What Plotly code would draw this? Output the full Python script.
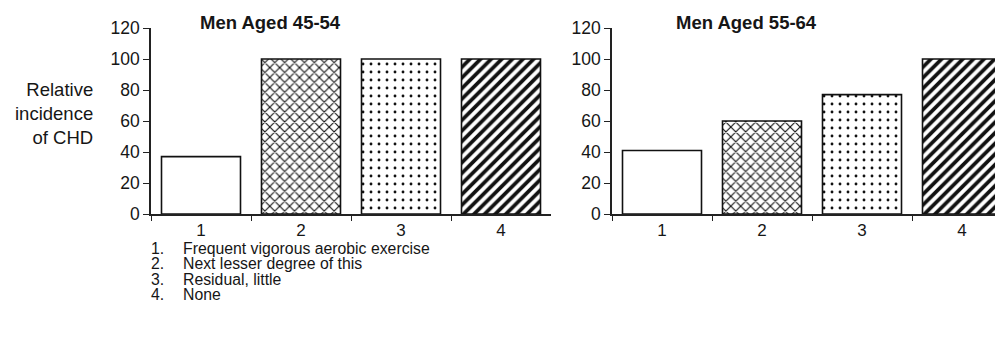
import plotly.graph_objects as go

categories = ["1", "2", "3", "4"]
men_45_54 = [37, 100, 100, 100]
men_55_64 = [41, 60, 77, 100]
panel_titles = ["Men Aged 45-54", "Men Aged 55-64"]
y_tick_vals = [0, 20, 40, 60, 80, 100, 120]
legend_numbers = ["1.", "2.", "3.", "4."]
legend_items = ["Frequent vigorous aerobic exercise", "Next lesser degree of this",
                "Residual, little", "None"]
y_label = "Relative<br>incidence<br>of CHD"

# page has an 8px body margin: lay out in page pixels and convert
OFF = 8
W, H = 1003 - OFF, 339 - 2 * OFF
FONT = "Liberation Sans, Arial, sans-serif"
AX = "#222222"
TXT = "#161616"


def px(x):
    return (x - OFF) / W


def py(y):
    return 1 - (y - OFF) / H


pattern = dict(
    shape=["", "x", ".", "/"],
    size=[8, 7, 8, 7.5],
    solidity=[0.2, 0.3, 0.1, 0.5],
    fgcolor="#111111",
    fgopacity=1,
    bgcolor="white",
    fillmode="replace",
)

fig = go.Figure()
for i, vals in enumerate([men_45_54, men_55_64]):
    fig.add_trace(go.Bar(
        x=categories, y=vals,
        xaxis="x" if i == 0 else "x2",
        yaxis="y" if i == 0 else "y2",
        marker=dict(color="white", line=dict(color="#111", width=1.6), pattern=pattern),
        showlegend=False,
    ))

ydom = [py(214), py(28)]
common_x = dict(type="category", tickson="boundaries", ticks="outside", ticklen=5,
                tickwidth=1.4, tickcolor=AX, showline=True, linecolor=AX, linewidth=1.5,
                showgrid=False, zeroline=False,
                tickfont=dict(family=FONT, size=17, color=TXT))
common_y = dict(range=[0, 120], tickvals=y_tick_vals, ticks="outside", ticklen=6,
                tickwidth=1.4, tickcolor=AX, showline=True, linecolor=AX, linewidth=1.5,
                showgrid=False, zeroline=False, domain=ydom,
                tickfont=dict(family=FONT, size=17.5, color=TXT))

fig.update_layout(
    width=W, height=H,
    margin=dict(l=0, r=0, t=0, b=0, autoexpand=False),
    paper_bgcolor="white", plot_bgcolor="white",
    bargap=0.21,
    xaxis=dict(domain=[px(151), px(551)], range=[-0.5, 3.5], anchor="y", **common_x),
    xaxis2=dict(domain=[px(612), 1.0], range=[-0.5, 3.41], anchor="y2", **common_x),
    yaxis=dict(anchor="x", **common_y),
    yaxis2=dict(anchor="x2", **common_y),
)

annotations = []
for t, cx in zip(panel_titles, [270, 746]):
    annotations.append(dict(text="<b>" + t + "</b>", x=px(cx), y=py(22),
                            xref="paper", yref="paper", xanchor="center", yanchor="middle",
                            showarrow=False, font=dict(family=FONT, size=18.5, color=TXT)))
annotations.append(dict(text=y_label, x=px(95), y=py(113), xref="paper", yref="paper",
                        xanchor="right", yanchor="middle", align="right", showarrow=False,
                        font=dict(family=FONT, size=18.5, color=TXT)))
for n, item, yy in zip(legend_numbers, legend_items, [248, 263.5, 279, 294.5]):
    annotations.append(dict(text=n, x=px(166), y=py(yy), xref="paper", yref="paper",
                            xanchor="right", yanchor="middle", showarrow=False,
                            font=dict(family=FONT, size=15.8, color=TXT)))
    annotations.append(dict(text=item, x=px(181), y=py(yy), xref="paper", yref="paper",
                            xanchor="left", yanchor="middle", showarrow=False,
                            font=dict(family=FONT, size=15.8, color=TXT)))
fig.update_layout(annotations=annotations)

fig.write_html("out.html")
